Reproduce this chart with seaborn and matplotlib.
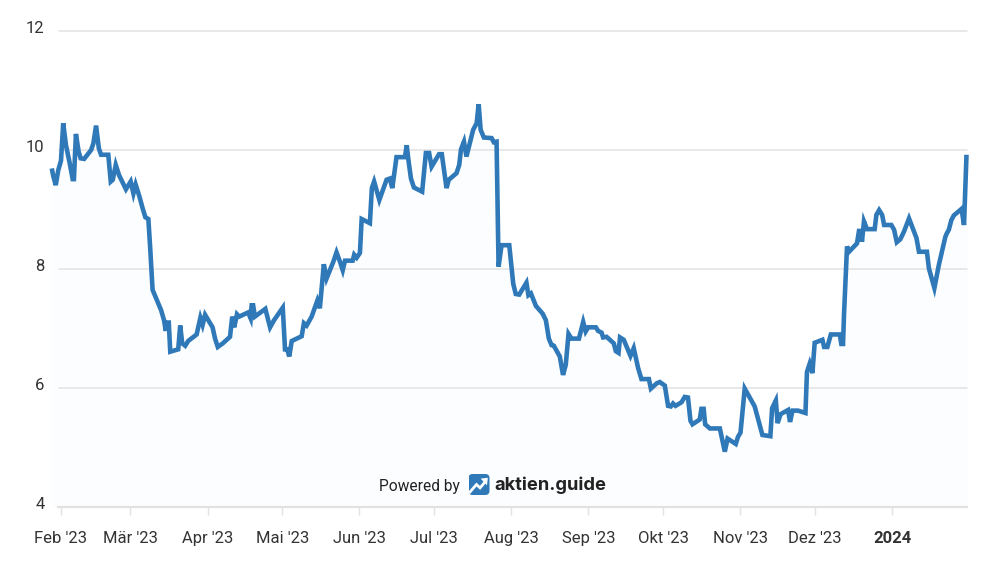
import numpy as np
import pandas as pd
import seaborn as sns
import matplotlib.pyplot as plt
from matplotlib.patches import FancyBboxPatch, Polygon
from matplotlib.transforms import ScaledTranslation

# days since 1 Feb 2023 for each visible vertex of the curve
days = [-3.6, -3.0, -2.0, -1.0, 0.1, 1.0, 2.1, 3.5, 4.8, 5.3, 6.1, 7.2, 8.0, 9.4, 10.7, 12.2, 13.1, 14.2, 15.3, 16.2,
        19.1, 20.1, 20.9, 22.1, 23.4, 24.7, 26.2, 28.1, 29.2, 30.1, 31.6, 32.9, 34.0, 35.2, 35.9, 36.9, 38.6, 40.3, 41.5, 42.2,
        42.6, 43.4, 44.0, 47.2, 48.0, 48.8, 50.0, 51.2, 54.6, 56.1, 57.0, 58.0, 61.0, 62.0, 63.1, 65.1, 68.0, 68.9, 69.7, 70.8,
        71.7, 75.3, 76.3, 76.7, 77.3, 78.0, 82.2, 84.1, 85.7, 89.2, 90.1, 91.0, 91.8, 92.8, 96.8, 97.7, 98.8, 100.8, 103.1, 104.1,
        105.7, 106.8, 109.5, 110.8, 112.2, 113.3, 114.2, 117.3, 117.9, 118.9, 120.2, 120.9, 124.2, 125.0, 125.9, 128.0, 130.9, 132.2, 133.2, 134.9,
        138.3, 139.0, 139.6, 140.7, 141.9, 145.2, 146.7, 148.0, 149.0, 152.0, 153.1, 155.0, 155.9, 159.0, 160.1, 160.8, 162.0, 163.0, 165.7, 167.1,
        167.9, 168.7, 170.0, 173.1, 174.0, 175.1, 175.9, 177.1, 180.2, 181.8, 182.8, 184.2, 187.1, 187.9, 188.9, 190.9, 193.6, 194.9, 196.1, 197.2,
        198.1, 200.5, 201.8, 202.9, 204.0, 205.2, 208.2, 209.9, 210.9, 211.9, 215.0, 215.9, 217.3, 217.9, 219.3, 222.2, 223.0, 224.1, 224.7, 226.2,
        228.9, 230.2, 232.0, 233.3, 236.3, 237.1, 239.5, 240.7, 242.7, 244.0, 245.1, 246.0, 247.0, 249.4, 250.7, 252.0, 253.0, 253.8, 256.7, 257.4,
        258.3, 258.9, 260.8, 264.8, 266.8, 267.9, 271.2, 272.1, 273.1, 274.8, 278.8, 281.9, 285.1, 285.8, 287.3, 288.0, 289.2, 292.2, 293.0, 294.0,
        296.2, 299.2, 299.8, 300.9, 302.0, 302.9, 306.0, 306.7, 308.0, 309.4, 313.0, 313.6, 314.3, 314.7, 315.9, 316.7, 319.9, 320.7, 321.4, 321.9,
        322.7, 323.9, 327.0, 327.7, 328.8, 330.0, 330.8, 333.7, 334.8, 335.9, 337.3, 338.8, 340.8, 343.8, 344.8, 348.0, 348.8, 351.0, 352.8, 355.4,
        356.0, 356.8, 357.8, 358.8, 361.9, 362.9, 363.9]

price = [9.69, 9.56, 9.41, 9.66, 9.82, 10.45, 10.08, 9.80, 9.51, 9.51, 10.27, 9.97, 9.86, 9.85, 9.92, 10.00, 10.11, 10.41, 10.03, 9.92,
         9.92, 9.47, 9.50, 9.75, 9.58, 9.47, 9.34, 9.47, 9.27, 9.42, 9.22, 9.02, 8.87, 8.84, 8.38, 7.65, 7.48, 7.31, 7.14, 6.96,
         7.10, 7.10, 6.61, 6.65, 7.05, 6.75, 6.71, 6.79, 6.90, 7.18, 7.06, 7.23, 7.02, 6.83, 6.69, 6.75, 6.86, 7.20, 7.02, 7.24,
         7.20, 7.27, 7.17, 7.39, 7.39, 7.20, 7.33, 7.02, 7.14, 7.35, 6.65, 6.65, 6.53, 6.79, 6.87, 7.09, 7.05, 7.20, 7.47, 7.34,
         8.08, 7.84, 8.12, 8.28, 8.12, 7.98, 8.14, 8.14, 8.24, 8.19, 8.27, 8.84, 8.77, 9.36, 9.47, 9.16, 9.50, 9.52, 9.36, 9.88,
         9.88, 10.08, 9.86, 9.52, 9.37, 9.30, 9.95, 9.95, 9.72, 9.93, 9.93, 9.36, 9.50, 9.61, 9.75, 10.01, 10.14, 9.89, 10.34, 10.45,
         10.77, 10.34, 10.21, 10.20, 10.13, 10.14, 8.04, 8.40, 8.40, 7.75, 7.58, 7.57, 7.77, 7.56, 7.59, 7.38, 7.25, 7.14, 6.83, 6.72,
         6.71, 6.53, 6.22, 6.39, 6.91, 6.83, 6.83, 7.11, 6.95, 7.02, 7.02, 6.96, 6.93, 6.85, 6.86, 6.75, 6.62, 6.59, 6.85, 6.81,
         6.54, 6.67, 6.33, 6.15, 6.15, 5.99, 6.08, 6.10, 6.04, 5.70, 5.69, 5.74, 5.70, 5.76, 5.85, 5.84, 5.45, 5.39, 5.47, 5.65,
         5.65, 5.39, 5.32, 5.32, 4.93, 5.15, 5.06, 5.18, 5.25, 5.99, 5.69, 5.21, 5.19, 5.66, 5.79, 5.41, 5.56, 5.63, 5.43, 5.62,
         5.62, 5.58, 6.27, 6.41, 6.25, 6.76, 6.81, 6.69, 6.69, 6.90, 6.90, 6.74, 6.74, 7.25, 8.38, 8.29, 8.43, 8.64, 8.64, 8.46,
         8.80, 8.67, 8.67, 8.91, 8.99, 8.91, 8.74, 8.74, 8.66, 8.45, 8.50, 8.63, 8.85, 8.52, 8.29, 8.29, 8.01, 7.68, 8.07, 8.54,
         8.60, 8.66, 8.82, 8.90, 9.01, 8.74, 9.92]

month_starts = ['2023-02-01', '2023-03-01', '2023-04-01', '2023-05-01', '2023-06-01', '2023-07-01',
                '2023-08-01', '2023-09-01', '2023-10-01', '2023-11-01', '2023-12-01', '2024-01-01']
month_labels = ["Feb '23", "Mär '23", "Apr '23", "Mai '23", "Jun '23", "Jul '23",
                "Aug '23", "Sep '23", "Okt '23", "Nov '23", "Dez '23", "2024"]
y_ticks = [4, 6, 8, 10, 12]

sns.set_style('white')
plt.rcParams['font.family'] = ['Roboto', 'DejaVu Sans']

start = pd.Timestamp('2023-02-01')
df = pd.DataFrame({'date': start + pd.to_timedelta(days, unit='D'), 'price': price})

W, H = 1000, 565
fig = plt.figure(figsize=(W / 100, H / 100), dpi=100)
ax = fig.add_axes([58.5 / W, 1 - 507 / H, (967 - 58.5) / W, (507 - 31) / H])

blue = '#2f79b9'
ax.fill_between(df['date'], df['price'], 4, color='#fcfdfe', lw=0, clip_on=False, zorder=0.1)
sns.lineplot(data=df, x='date', y='price', ax=ax, color=blue, linewidth=3.3, estimator=None,
             errorbar=None, clip_on=False, zorder=3, solid_joinstyle='miter', solid_capstyle='butt')

ax.set_xlim(start - pd.Timedelta(days=0.9), start + pd.Timedelta(days=364.1))
ax.set_ylim(4, 12)
ax.set_xlabel('')
ax.set_ylabel('')

ax.set_yticks(y_ticks)
ax.set_xticks(pd.to_datetime(month_starts))
ax.set_xticklabels(month_labels)
ax.grid(axis='y', color='#e2e2e2', linewidth=1.1, clip_on=False)
ax.grid(axis='x', visible=False)
ax.set_axisbelow(True)

for side in ['top', 'left', 'right']:
    ax.spines[side].set_visible(False)
ax.spines['bottom'].set_color('#e2e2e2')
ax.spines['bottom'].set_linewidth(1.6)

ax.tick_params(axis='x', length=6, width=1.0, color='#e2e2e2', labelcolor='#333333', labelsize=12, pad=11,
               bottom=True)
ax.tick_params(axis='y', length=0, labelcolor='#333333', labelsize=12, pad=10)

# y labels sit a little above their grid lines
shift = ScaledTranslation(0, 3.0 / 72, fig.dpi_scale_trans)
for lab in ax.get_yticklabels():
    lab.set_transform(lab.get_transform() + shift)
ax.get_xticklabels()[-1].set_fontweight('bold')

fig.text(419 / W, 1 - 486.5 / H, 'Powered by', ha='center', va='center', fontsize=11.2, color='#222222')
fig.text(494 / W, 1 - 485 / H, 'aktien.guide', ha='left', va='center', fontsize=13.2, color='#222222',
         fontweight='bold', family=['Inter', 'DejaVu Sans'])

# small logo
logo = fig.add_axes([468.5 / W, 1 - 495 / H, 21 / W, 21 / H])
logo.set_xlim(0, 1)
logo.set_ylim(0, 1)
logo.axis('off')
logo.add_patch(FancyBboxPatch((0.08, 0.08), 0.84, 0.84, boxstyle='round,pad=0.08,rounding_size=0.2',
                              fc=blue, ec='none'))
logo.plot([0.05, 0.38, 0.55, 0.82], [0.12, 0.5, 0.34, 0.66], color='white', lw=2.0, solid_joinstyle='miter')
logo.add_patch(Polygon([[0.58, 0.78], [0.92, 0.82], [0.88, 0.46]], fc='white', ec='none'))

plt.savefig('out.png', dpi=100)
